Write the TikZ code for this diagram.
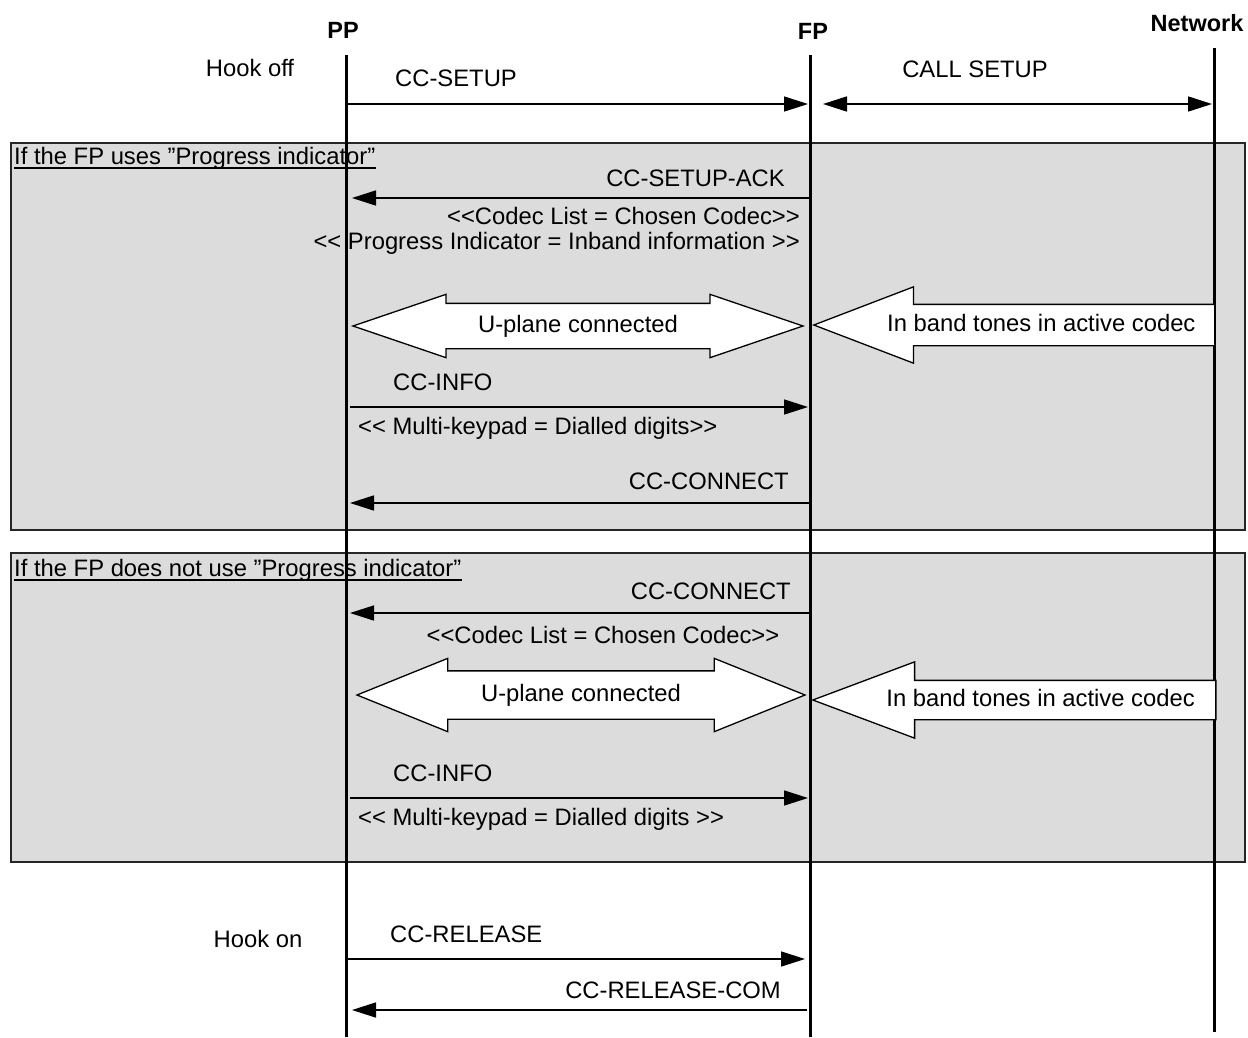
\documentclass[tikz,border=0pt]{standalone}
\usepackage{fontspec}
\setmainfont{Liberation Sans}[Ligatures=TeXOff]
\usetikzlibrary{arrows.meta,positioning,shapes.arrows}
\definecolor{AltGray}{HTML}{DCDCDC}
\definecolor{AltBorder}{HTML}{262626}

\begin{document}
\begin{tikzpicture}[x=1pt,y=-1pt,
    every node/.style={font=\fontsize{23.8}{28}\selectfont,inner sep=0pt},
    entity/.style={font=\fontsize{23.5}{28}\selectfont\bfseries},
    lifeline/.style={line width=3pt},
    msg/.style={line width=1.6pt,-{Triangle[length=24pt,width=15pt]}},
    altbox/.style={draw=AltBorder,fill=AltGray,line width=1.5pt,anchor=north west,minimum width=1234pt},
    uplane/.style={double arrow,draw,fill=white,line width=1.3pt,inner xsep=0pt,text height=17pt,text depth=5pt},
    tones/.style={single arrow,draw,fill=white,line width=1.3pt,inner xsep=0pt,text height=17pt,text depth=5pt,shape border rotate=180,anchor=tip}]
  \useasboundingbox (0,0) rectangle (1248,1037);

  % alternative blocks
  \node[altbox,minimum height=387pt] (alt1) at (10,142) {};
  \node[altbox,minimum height=309pt] (alt2) at (10,552) {};
  \node[anchor=west] (alt1 title) at (14,158) {If the FP uses ”Progress indicator”};
  \node[anchor=west] (alt2 title) at (14,570) {If the FP does not use ”Progress indicator”};
  \draw[line width=1.4pt] ([yshift=-4pt]alt1 title.base west) -- ([yshift=-4pt]alt1 title.base east);
  \draw[line width=1.4pt] ([yshift=-4pt]alt2 title.base west) -- ([yshift=-4pt]alt2 title.base east);

  % entities and lifelines
  \node[entity] (PP) at (343,30) {PP};
  \node[entity] (FP) at (813,31) {FP};
  \node[entity] (NW) at (1197,23) {Network};
  \coordinate (pp top) at (346,55);  \coordinate (pp bot) at (346,1037);
  \coordinate (fp top) at (810,55);  \coordinate (fp bot) at (810,1037);
  \coordinate (nw top) at (1214,48); \coordinate (nw bot) at (1214,1032);
  \draw[lifeline] (pp top) -- (pp bot);
  \draw[lifeline] (fp top) -- (fp bot);
  \draw[lifeline] (nw top) -- (nw bot);

  % message levels
  \coordinate (setup) at (0,104);
  \coordinate (ack) at (0,198);
  \coordinate (info a) at (0,407);
  \coordinate (conn a) at (0,503);
  \coordinate (conn b) at (0,613);
  \coordinate (info b) at (0,798);
  \coordinate (rel) at (0,959);
  \coordinate (relcom) at (0,1010);

  % set-up
  \node (hook off) at (250,68) {Hook off};
  \draw[msg,shorten >=2pt] (pp top |- setup) -- (fp top |- setup);
  \node[anchor=west] (setup lbl) at (395,78) {CC-SETUP};
  \draw[line width=1.6pt,{Triangle[length=24pt,width=15pt]}-{Triangle[length=24pt,width=15pt]},shorten <=13pt,shorten >=2pt] (fp top |- setup) -- (nw top |- setup);
  \node (call lbl) at (975,69) {CALL SETUP};

  % with progress indicator
  \draw[msg,shorten >=6pt] (fp top |- ack) -- (pp top |- ack);
  \node[anchor=east] (ack lbl) at (785,178) {CC-SETUP-ACK};
  \node[anchor=east] (codec a) at (800,216) {<<Codec List = Chosen Codec>>};
  \node[anchor=east] (prog) at (800,243) {<< Progress Indicator = Inband information >>};
  \node[uplane,minimum height=450pt,inner ysep=11pt,double arrow head extend=9pt,double arrow tip angle=37.6] (up a) at (578,326) {U-plane connected};
  \node[tones,minimum height=401pt,inner ysep=9pt,single arrow head extend=17.5pt,single arrow tip angle=41.9] (tone a) at (812,325) {In band tones in active codec};
  \draw[msg,shorten <=4pt,shorten >=2pt] (pp top |- info a) -- (fp top |- info a);
  \node[anchor=west] (info a lbl) at (393,382) {CC-INFO};
  \node[anchor=west] (keys a) at (358,428) {<< Multi-keypad = Dialled digits>>};
  \draw[msg,shorten >=4pt] (fp top |- conn a) -- (pp top |- conn a);
  \node[anchor=east] (conn a lbl) at (789,481) {CC-CONNECT};

  % without progress indicator
  \draw[msg,shorten >=4pt] (fp top |- conn b) -- (pp top |- conn b);
  \node[anchor=east] (conn b lbl) at (791,591) {CC-CONNECT};
  \node (codec b) at (603,635) {<<Codec List = Chosen Codec>>};
  \node[uplane,minimum height=448pt,inner ysep=12.5pt,double arrow head extend=12.5pt,double arrow tip angle=44] (up b) at (581,695) {U-plane connected};
  \node[tones,minimum height=403pt,inner ysep=8pt,single arrow head extend=18.5pt,single arrow tip angle=41.1] (tone b) at (811,700) {In band tones in active codec};
  \draw[msg,shorten <=4pt,shorten >=2pt] (pp top |- info b) -- (fp top |- info b);
  \node[anchor=west] (info b lbl) at (393,773) {CC-INFO};
  \node[anchor=west] (keys b) at (358,819) {<< Multi-keypad = Dialled digits >>};

  % release
  \node (hook on) at (258,939) {Hook on};
  \draw[msg,shorten >=5pt] (pp top |- rel) -- (fp top |- rel);
  \node[anchor=west] (rel lbl) at (390,934) {CC-RELEASE};
  \draw[msg,shorten <=3pt,shorten >=6pt] (fp top |- relcom) -- (pp top |- relcom);
  \node[anchor=east] (relcom lbl) at (781,990) {CC-RELEASE-COM};
\end{tikzpicture}
\end{document}
